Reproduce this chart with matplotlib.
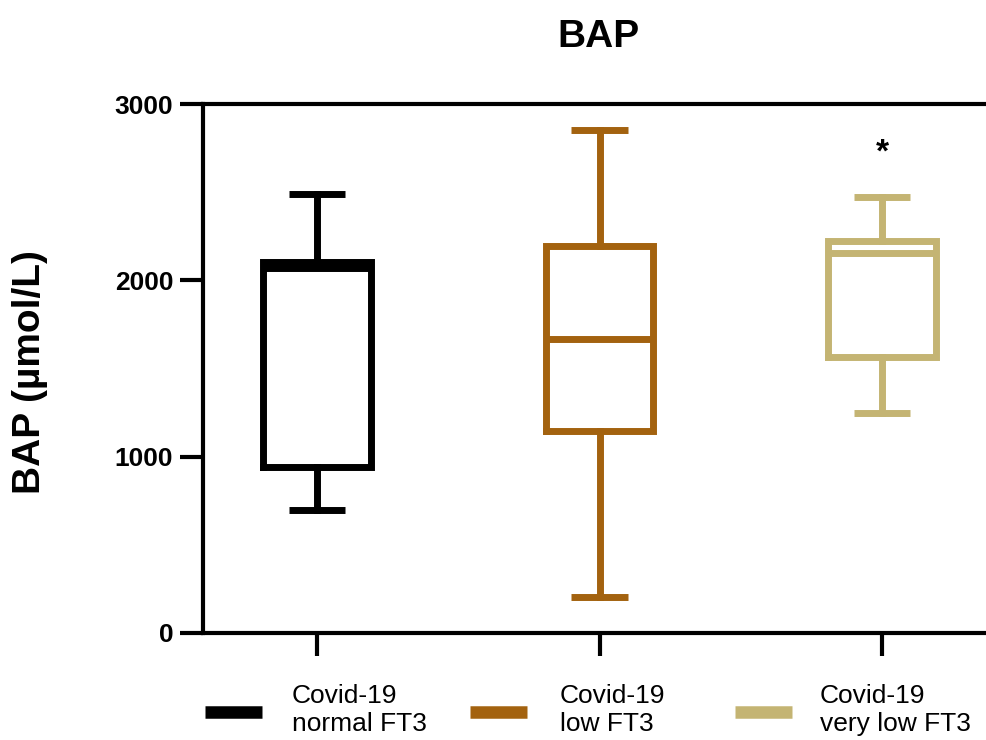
import matplotlib
matplotlib.use("Agg")
import matplotlib.pyplot as plt
from matplotlib.lines import Line2D

plt.rcParams['font.family'] = ['Liberation Sans', 'DejaVu Sans']

groups = ["Covid-19\nnormal FT3", "Covid-19\nlow FT3", "Covid-19\nvery low FT3"]
colors = ["#000000", "#A3620F", "#C4B473"]
whislo = [700, 205, 1250]
q1 = [940, 1145, 1565]
med = [2070, 1665, 2155]
q3 = [2105, 2195, 2225]
whishi = [2490, 2850, 2475]
yticks = [0, 1000, 2000, 3000]

W, H = 987, 740
fig = plt.figure(figsize=(W/100, H/100), dpi=100)
ax = fig.add_axes([203/W, 1-633/H, 784/W, (633-104)/H])

for i in range(3):
    st = [dict(med=med[i], q1=q1[i], q3=q3[i], whislo=whislo[i], whishi=whishi[i], label=groups[i])]
    c = colors[i]
    ax.bxp(st, positions=[i], widths=0.38, capwidths=0.2, showfliers=False,
           boxprops=dict(color=c, linewidth=5, solid_joinstyle='miter'),
           medianprops=dict(color=c, linewidth=5, solid_capstyle='butt'),
           whiskerprops=dict(color=c, linewidth=5),
           capprops=dict(color=c, linewidth=5, solid_capstyle='butt'),
           manage_ticks=False)

ax.text(2, 2720, "*", ha='center', va='center', fontsize=24, fontweight='bold')

ax.set_xlim(-0.404, 2.372)
ax.set_ylim(0, 3000)
ax.set_yticks(yticks)
ax.set_yticklabels([str(v) for v in yticks], fontsize=19, fontweight='bold')
ax.set_xticks([0, 1, 2])
ax.set_xticklabels([])
ax.tick_params(axis='both', length=16.5, width=3, direction='out')
ax.tick_params(axis='y', pad=5)
for s in ['left', 'bottom', 'top']:
    ax.spines[s].set_linewidth(3)
ax.spines['right'].set_visible(False)

fig.text(30/W, 1-372/H, "BAP (µmol/L)", rotation=90, ha='center', va='center',
         fontsize=28, fontweight='bold')
fig.text(598/W, 1-37/H, "BAP", ha='center', va='center', fontsize=28, fontweight='bold')

# legend drawn manually
hx = [205, 470, 735]
tx = [292, 560, 820]
for i in range(3):
    fig.add_artist(Line2D([hx[i]/W, (hx[i]+57)/W], [1-712/H, 1-712/H], color=colors[i],
                          linewidth=9, solid_capstyle='butt', transform=fig.transFigure))
    fig.text(tx[i]/W, 1-710/H, groups[i], ha='left', va='center', fontsize=19,
             linespacing=1.25)

fig.savefig("out.png", dpi=100)
